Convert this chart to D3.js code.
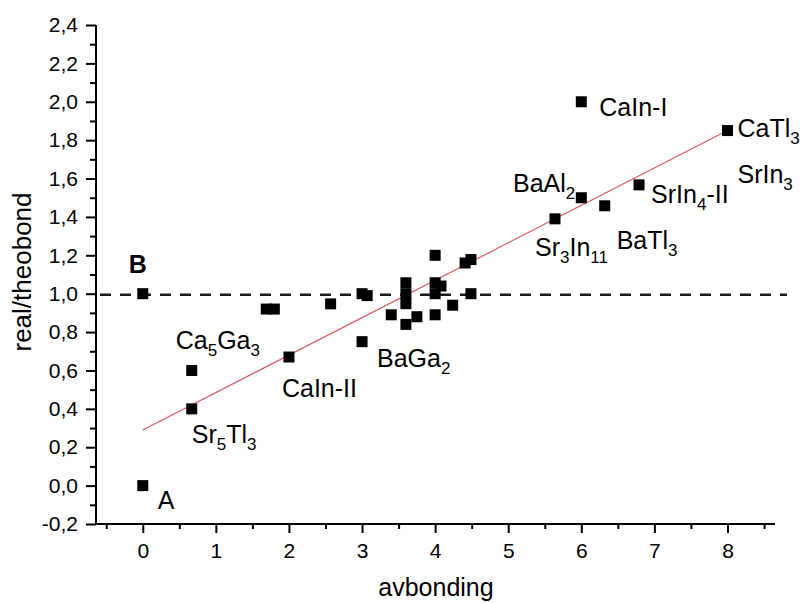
<!DOCTYPE html>
<html>
<head>
<meta charset="utf-8">
<script src="https://cdn.jsdelivr.net/npm/d3@7"></script>
<style>
  html, body { margin: 0; padding: 0; background: #fff; }
  svg { display: block; font-family: "Liberation Sans", Arial, sans-serif; }
</style>
</head>
<body>
<svg id="chart" width="804" height="603"></svg>
<script>
// Measured compounds: average bonding vs. real/theoretical bond ratio
const avbonding = [0, 0, 0.67, 0.67, 1.69, 1.80, 2.0, 2.57, 3.0, 3.07, 3.0, 3.40,
  3.6, 3.6, 3.6, 3.6, 3.75, 4.0, 4.0, 4.0, 4.0, 4.08, 4.24, 4.41, 4.49, 4.49,
  5.64, 6.0, 6.32, 6.79, 8.0, 6.0];
const ratio = [0.0, 1.0, 0.40, 0.60, 0.92, 0.92, 0.67, 0.947, 1.0, 0.99, 0.75, 0.89,
  1.057, 1.0, 0.948, 0.84, 0.88, 1.2, 1.057, 1.0, 0.89, 1.04, 0.94, 1.16, 1.178, 1.0,
  1.39, 1.50, 1.458, 1.567, 1.85, 2.0];

// Annotated compounds (index into the arrays above); "_{n}" marks a subscript
const labelText = ["A", "B", "Sr_{5}Tl_{3}", "Ca_{5}Ga_{3}", "CaIn-II", "BaGa_{2}",
  "Sr_{3}In_{11}", "BaAl_{2}", "BaTl_{3}", "SrIn_{4}-II", "CaTl_{3}", "SrIn_{3}", "CaIn-I"];
const labelPoint = [0, 1, 2, 3, 6, 10, 26, 27, 28, 29, 30, 30, 31];

// Reference level and linear fit
const refLevel = 0.994;
const fitIntercept = 0.29;
const fitSlope = 0.195;
const fitRange = [0, 8];

const xMajor = [0, 1, 2, 3, 4, 5, 6, 7, 8];
const xMinor = [-0.5, 0.5, 1.5, 2.5, 3.5, 4.5, 5.5, 6.5, 7.5, 8.5];
const yMajor = [-0.2, 0, 0.2, 0.4, 0.6, 0.8, 1.0, 1.2, 1.4, 1.6, 1.8, 2.0, 2.2, 2.4];
const yMinor = [-0.1, 0.1, 0.3, 0.5, 0.7, 0.9, 1.1, 1.3, 1.5, 1.7, 1.9, 2.1, 2.3];

// Label placement, offsets in px from the point: [dx, dy, anchor, bold]
const labelLayout = [
  [15, 23, "start", false],   // A
  [-14, -21, "start", true],  // B
  [0, 34, "start", false],    // Sr5Tl3
  [-16, -21, "start", false], // Ca5Ga3
  [-7, 40, "start", false],   // CaIn-II
  [15, 25, "start", false],   // BaGa2
  [-20, 37, "start", false],  // Sr3In11
  [-6, -6, "end", false],     // BaAl2
  [12, 43, "start", false],   // BaTl3
  [12, 18, "start", false],   // SrIn4-II
  [10, 6, "start", false],    // CaTl3
  [10, 52, "start", false],   // SrIn3
  [18, 14, "start", false]    // CaIn-I
];

const svg = d3.select("#chart");
const x = d3.scaleLinear().domain([-0.64, 8.65]).range([96, 775]);
const y = d3.scaleLinear().domain([-0.2, 2.4]).range([524, 25]);
const fmt = v => d3.format(".1f")(v).replace(".", ",").replace("−", "-");

// Axes
const gx = svg.append("g").attr("transform", "translate(0,524)");
gx.call(d3.axisBottom(x).tickValues(xMinor).tickSize(5).tickFormat(""));
gx.append("g").call(d3.axisBottom(x).tickValues(xMajor).tickSize(9).tickPadding(10).tickFormat(d3.format("d")));

const gy = svg.append("g").attr("transform", "translate(96,0)");
gy.call(d3.axisLeft(y).tickValues(yMinor).tickSize(6).tickFormat(""));
gy.append("g").call(d3.axisLeft(y).tickValues(yMajor).tickSize(10).tickPadding(8).tickFormat(fmt));

svg.selectAll(".domain").attr("stroke", "#000").attr("stroke-width", 2);
gx.select(".domain").attr("d", `M${x.range()[0] - 1},0H${x.range()[1]}`);
gy.select(".domain").attr("d", `M0,${y.range()[0] + 1}V${y.range()[1]}`);
svg.selectAll("g g .domain").remove();
svg.selectAll(".tick line").attr("stroke", "#000").attr("stroke-width", 2);
svg.selectAll(".tick text").attr("fill", "#000").style("font-size", "21px")
  .style("font-family", "'Liberation Sans', Arial, sans-serif");

// Axis titles
svg.append("text").attr("x", 436).attr("y", 596).attr("text-anchor", "middle")
  .style("font-size", "25px").text("avbonding");
svg.append("text").attr("transform", "translate(31,272) rotate(-90)").attr("text-anchor", "middle")
  .style("font-size", "26px").text("real/theobond");

// Reference level
svg.append("line")
  .attr("x1", 96).attr("x2", 787)
  .attr("y1", y(refLevel)).attr("y2", y(refLevel))
  .attr("stroke", "#1a1a1a").attr("stroke-width", 2.5)
  .attr("stroke-dasharray", "11,9").attr("stroke-dashoffset", 16);

// Linear fit
svg.append("line")
  .attr("x1", x(fitRange[0])).attr("y1", y(fitIntercept + fitSlope * fitRange[0]))
  .attr("x2", x(fitRange[1])).attr("y2", y(fitIntercept + fitSlope * fitRange[1]))
  .attr("stroke", "#e0585f").attr("stroke-width", 1.2);

// Points
const side = 11;
svg.append("g").selectAll("rect")
  .data(d3.zip(avbonding, ratio))
  .join("rect")
  .attr("x", d => x(d[0]) - side / 2)
  .attr("y", d => y(d[1]) - side / 2)
  .attr("width", side).attr("height", side)
  .attr("fill", "#000");

// Labels with subscripts
const lg = svg.append("g").style("font-size", "25px").attr("fill", "#000");
labelText.forEach((txt, i) => {
  const p = labelPoint[i];
  const [dx, dy, anchor, bold] = labelLayout[i];
  const t = lg.append("text")
    .attr("x", x(avbonding[p]) + dx)
    .attr("y", y(ratio[p]) + dy)
    .attr("text-anchor", anchor)
    .style("font-weight", bold ? "bold" : "normal");
  const parts = txt.split(/(_\{\d+\})/).filter(s => s.length);
  let shifted = false;
  parts.forEach(s => {
    const m = s.match(/^_\{(\d+)\}$/);
    if (m) {
      t.append("tspan").attr("dy", 7).style("font-size", "17px").text(m[1]);
      shifted = true;
    } else {
      t.append("tspan").attr("dy", shifted ? -7 : 0).text(s);
      shifted = false;
    }
  });
});
</script>
</body>
</html>
